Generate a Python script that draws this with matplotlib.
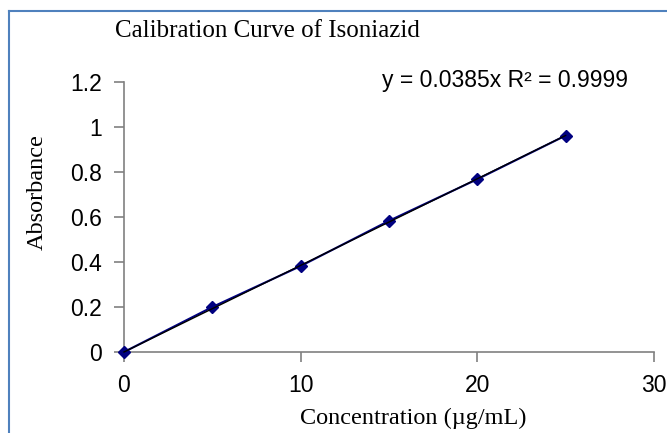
import matplotlib
matplotlib.use("Agg")
import matplotlib.pyplot as plt
from matplotlib.lines import Line2D
import numpy as np

concentration = [0, 5, 10, 15, 20, 25]
absorbance = [0.0, 0.200, 0.382, 0.583, 0.768, 0.962]
slope = 0.0385
x_ticks = [0, 10, 20, 30]
y_ticks = [0, 0.2, 0.4, 0.6, 0.8, 1.0, 1.2]
y_tick_labels = ["0", "0.2", "0.4", "0.6", "0.8", "1", "1.2"]

W, H = 667, 433
fig = plt.figure(figsize=(W / 100, H / 100), dpi=100)
ax = fig.add_axes([124 / W, 1 - 352 / H, (654 - 124) / W, (352 - 82) / H])

# data series
ax.plot(concentration, absorbance, color="#000080", lw=1.5, marker="D",
        markersize=6.5, markerfacecolor="#000080", markeredgecolor="#000080",
        zorder=3, clip_on=False)
# linear trendline through origin
tx = np.array([concentration[0], concentration[-1]])
ax.plot(tx, slope * tx, color="black", lw=1.0, zorder=4, clip_on=False)

ax.set_xlim(0, 30)
ax.set_ylim(0, 1.2)
ax.set_xticks(x_ticks)
ax.set_xticklabels([str(t) for t in x_ticks])
ax.set_yticks(y_ticks)
ax.set_yticklabels(y_tick_labels)
for s in ["top", "right"]:
    ax.spines[s].set_visible(False)
for s in ["left", "bottom"]:
    ax.spines[s].set_color("#808080")
    ax.spines[s].set_linewidth(1.2)
ax.tick_params(axis="both", direction="out", length=7, width=1.2,
               color="#808080", labelsize=16.5, labelcolor="black")
ax.tick_params(axis="y", pad=9)
ax.tick_params(axis="x", pad=9)
for lab in ax.get_xticklabels() + ax.get_yticklabels():
    lab.set_fontfamily("Liberation Sans")

fig.text(115 / W, 1 - 31 / H, "Calibration Curve of Isoniazid",
         fontsize=18, family="Liberation Serif", ha="left", va="center")
fig.text(382 / W, 1 - 80 / H, "y = 0.0385x R² = 0.9999",
         fontsize=16.5, family="Liberation Sans", ha="left", va="center")
fig.text(37 / W, 1 - 192 / H, "Absorbance", rotation=90,
         fontsize=17.5, family="Liberation Serif", ha="center", va="center")
fig.text(413 / W, 4 / H, "Concentration (µg/mL)",
         fontsize=17.5, family="Liberation Serif", ha="center", va="bottom")

# outer chart frame (partially visible)
frame_color = "#4F81BD"
fig.add_artist(Line2D([9 / W, 1], [1 - 11 / H, 1 - 11 / H],
                      transform=fig.transFigure, color=frame_color, lw=1.5))
fig.add_artist(Line2D([9 / W, 9 / W], [0, 1 - 11 / H],
                      transform=fig.transFigure, color=frame_color, lw=1.5))

fig.savefig("out.png", dpi=100)
